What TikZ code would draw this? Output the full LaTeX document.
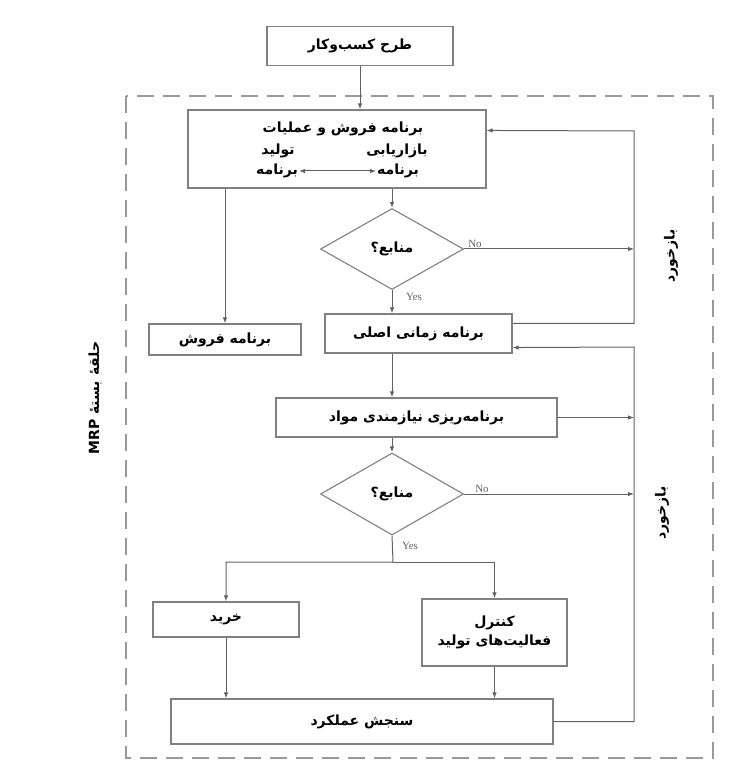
\documentclass[tikz,border=0pt]{standalone}
\usepackage{fontspec}
\setmainfont{Liberation Serif}
\newfontfamily\fa[Script=Arabic]{DejaVu Sans}
\TeXXeTstate=1
\usetikzlibrary{shapes.geometric,arrows.meta}
\definecolor{boxgray}{gray}{0.5}
\definecolor{linegray}{gray}{0.38}
\definecolor{dashgray}{gray}{0.6}
\begin{document}
\begin{tikzpicture}[x=1pt, y=-1pt, >={Latex[length=6pt,width=4.5pt]},
    box/.style={draw=boxgray, line width=1.1pt, inner sep=0pt,
      font=\fa\bfseries\fontsize{14}{19}\selectfont},
    decision/.style={diamond, draw=boxgray, line width=1.1pt, inner sep=0pt,
      minimum width=143pt, minimum height=81pt,
      font=\fa\bfseries\fontsize{14}{19}\selectfont},
    txt/.style={inner sep=1pt, font=\fa\bfseries\fontsize{14}{19}\selectfont},
    link/.style={draw=linegray, line width=1pt},
    answer/.style={text=linegray, font=\fontsize{11}{13}\selectfont}]
  \useasboundingbox (0,0) rectangle (750,775);

  % closed loop frame
  \draw[dashgray, line width=1.6pt, dash pattern=on 17pt off 9pt] (126,96) rectangle (713,758);
  \node[txt, rotate=90] (loop) at (95,398) {\beginR حلقهٔ بستهٔ \beginL MRP\endL\endR};

  % boxes
  \node[box, minimum width=186pt, minimum height=39pt] (plan) at (360,46) {\beginR طرح کسب‌وکار\endR};
  \node[box, minimum width=298pt, minimum height=78pt] (sop) at (337,149) {};
  \node[txt] (sopT) at (343,129) {\beginR برنامه فروش و عملیات\endR};
  \node[txt] (prodA) at (278,151) {\beginR تولید\endR};
  \node[txt] (prodB) at (277,171) {\beginR برنامه\endR};
  \node[txt] (markA) at (397,151) {\beginR بازاریابی\endR};
  \node[txt] (markB) at (398,171) {\beginR برنامه\endR};
  \node[decision] (res1) at (392,249) {\beginR منابع؟\endR};
  \node[box, minimum width=152pt, minimum height=31pt] (sales) at (225,339.5) {\beginR برنامه فروش\endR};
  \node[box, minimum width=187pt, minimum height=39pt] (mps) at (418.5,333.5) {\beginR برنامه زمانی اصلی\endR};
  \node[box, minimum width=281pt, minimum height=39pt] (mrp) at (416.5,417.5) {\beginR برنامه‌ریزی نیازمندی مواد\endR};
  \node[decision, minimum height=82pt] (res2) at (392,494) {\beginR منابع؟\endR};
  \node[box, minimum width=146pt, minimum height=35pt] (buy) at (226,619.5) {\beginR خرید\endR};
  \node[box, minimum width=145pt, minimum height=67pt, align=center] (ctrl) at (494.5,632.5)
    {\beginR کنترل\endR\\\beginR فعالیت‌های تولید\endR};
  \node[box, minimum width=382pt, minimum height=45pt] (perf) at (362,721.5) {\beginR سنجش عملکرد\endR};

  % helper points
  \coordinate (fb) at (634,0);
  \coordinate (fbtop) at (634,131);
  \coordinate (fbmid) at (634,347);
  \coordinate (split) at (393,562);

  % connectors
  \draw[link, ->] (plan.south) -- (plan.south |- sop.north);
  \draw[link, <->] (prodB) -- (markB);
  \draw[link, ->] (sales.north |- sop.south) -- (sales.north);
  \draw[link, ->] (res1.north |- sop.south) -- (res1.north);
  \draw[link, ->] (res1.south) -- (res1.south |- mps.north);
  \draw[link, ->] (res1.east) -- (res1.east -| fb);
  \draw[link, ->] ([yshift=-10pt]mps.north east) -| (fbtop) -- ([yshift=-21pt]sop.north east);
  \draw[link, ->] (res1.south |- mps.south) -- (res1.south |- mrp.north);
  \draw[link, ->] (res2.north |- mrp.south) -- (res2.north);
  \draw[link, ->] (mrp.east) -- (mrp.east -| fb);
  \draw[link, ->] (res2.east) -- (res2.east -| fb);
  \draw[link, ->] (res2.south) -- (split) -| (buy.north);
  \draw[link, ->] (split) -| (ctrl.north);
  \draw[link, ->] (buy.south) -- (buy.south |- perf.north);
  \draw[link, ->] (ctrl.south) -- (ctrl.south |- perf.north);
  \draw[link, ->] (perf.east) -| (fbmid) -- ([yshift=6pt]mps.south east);

  % answers
  \node[answer] (no1) at (475,244) {No};
  \node[answer] (yes1) at (414,297) {Yes};
  \node[answer] (no2) at (482,489) {No};
  \node[answer] (yes2) at (410,546) {Yes};

  % feedback
  \node[txt, rotate=90] (fb1) at (671,256) {\beginR بازخورد\endR};
  \node[txt, rotate=90] (fb2) at (662,513) {\beginR بازخورد\endR};
\end{tikzpicture}
\end{document}
